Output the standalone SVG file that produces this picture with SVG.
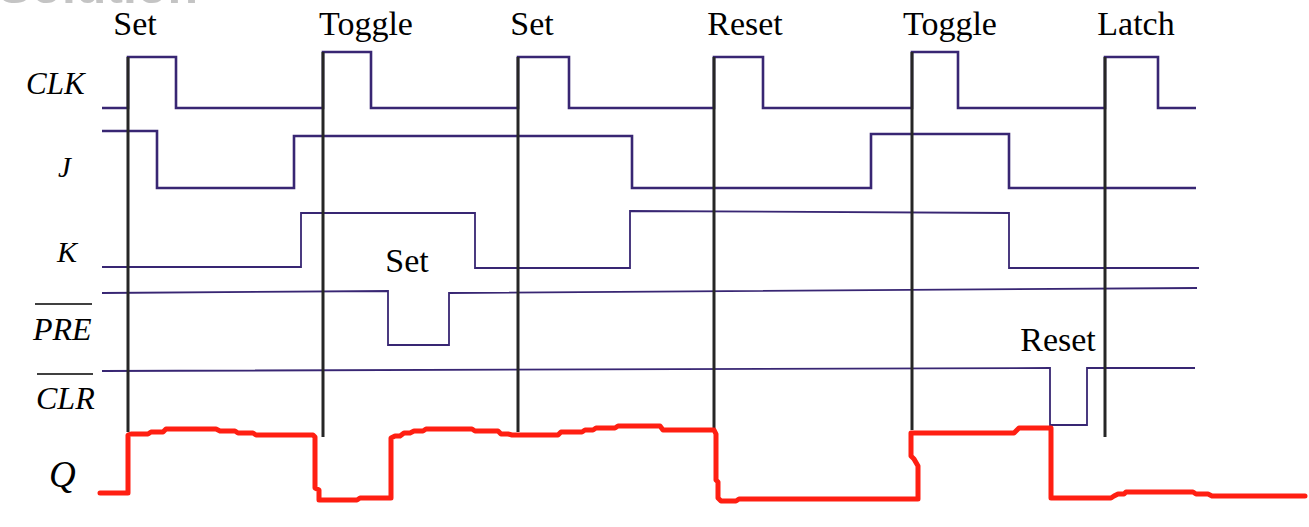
<svg xmlns="http://www.w3.org/2000/svg" width="1309" height="527" viewBox="0 0 1309 527">
<style>
.sig{fill:none;stroke:#382673;stroke-width:2.6;stroke-linejoin:miter}
.thin{fill:none;stroke:#382673;stroke-width:1.8}
.edge{stroke:#262626;stroke-width:3}
.q{fill:none;stroke:#ff1f12;stroke-width:5;stroke-linejoin:round;stroke-linecap:round}
.ol{stroke:#000;stroke-width:1.5}
</style>
<rect width="1309" height="527" fill="#fff"/>
<text x="-2" y="3" font-family="Liberation Sans, Arial, sans-serif" font-weight="bold" font-size="50" fill="#c4c4c4">Solution</text>

<g id="top-labels" font-family="Liberation Serif, Times New Roman, serif" font-size="34" fill="#000" text-anchor="middle">
<text x="135" y="35">Set</text>
<text x="366" y="35">Toggle</text>
<text x="532" y="35">Set</text>
<text x="745" y="35">Reset</text>
<text x="950" y="35">Toggle</text>
<text x="1136" y="35">Latch</text>
</g>

<g id="signal-labels" font-family="Liberation Serif, Times New Roman, serif" font-style="italic" fill="#000">
<text x="26" y="94" font-size="31">CLK</text>
<text x="58" y="177" font-size="29">J</text>
<text x="57" y="262" font-size="30">K</text>
<text x="33" y="340" font-size="32">PRE</text>
<line class="ol" x1="35" y1="304" x2="92" y2="304"/>
<text x="36" y="409" font-size="32">CLR</text>
<line class="ol" x1="37" y1="374" x2="93" y2="374"/>
<text x="49" y="487" font-size="37">Q</text>
</g>

<g id="CLK">
<path class="sig" d="M102,108 H128 V57 H176 V108 H323 V52 H371 V108 H518 V57 H569 V108 H714 V57 H763 V108 H912 V52 H958 V108 H1105 V57 H1158 V108 H1196"/>
</g>

<g id="J">
<path class="sig" d="M102,131 H157 V188 H294 V136 H632 V188 H871 V134 H1009 V188 H1196"/>
</g>

<g id="K">
<path class="thin" d="M102,267 H301 V213 H475 V268 H630 V211 L1009,213 V268 H1199"/>
</g>

<g id="PRE">
<path class="thin" d="M102,293 L388,291 V345 H449 V293 L1197,288"/>
<text x="407" y="272" font-family="Liberation Serif, Times New Roman, serif" font-size="34" fill="#000" text-anchor="middle">Set</text>
</g>

<g id="CLR">
<path class="thin" d="M102,371 L1050,368 V425 H1087 V368 H1195"/>
<text x="1058" y="351" font-family="Liberation Serif, Times New Roman, serif" font-size="34" fill="#000" text-anchor="middle">Reset</text>
</g>

<g id="clock-edges">
<line class="edge" x1="128" y1="57" x2="128" y2="432"/>
<line class="edge" x1="323" y1="52" x2="323" y2="437"/>
<line class="edge" x1="518" y1="57" x2="518" y2="432"/>
<line class="edge" x1="714" y1="57" x2="714" y2="430"/>
<line class="edge" x1="912" y1="52" x2="912" y2="430"/>
<line class="edge" x1="1105" y1="57" x2="1105" y2="437"/>
</g>

<g id="Q">
<path class="q" d="M100,493 H128 V435 L131,434 H148 L151,432 H163 L166,429 H216 L220,431 H235 L238,433 H253 L256,435 H313 L315,437 V488 L319,490 V500 H357 L360,498 H391 V438 L395,436 H400 L404,433 H410 L414,431 H423 L426,429 H472 L475,431 H498 L501,434 H508 L512,435 H558 L561,432 H582 L585,430 H593 L596,428 H615 L618,426 H660 L663,430 H714 L716,434 V480 L718,482 V498 L721,501 H736 L739,499 H918 V466 L914,459 L911,456 V433 H1014 L1019,428 H1051 V498 H1111 L1114,496 L1118,494 H1124 L1126,492 H1193 L1196,494 H1208 L1212,496 H1305"/>
</g>
</svg>
